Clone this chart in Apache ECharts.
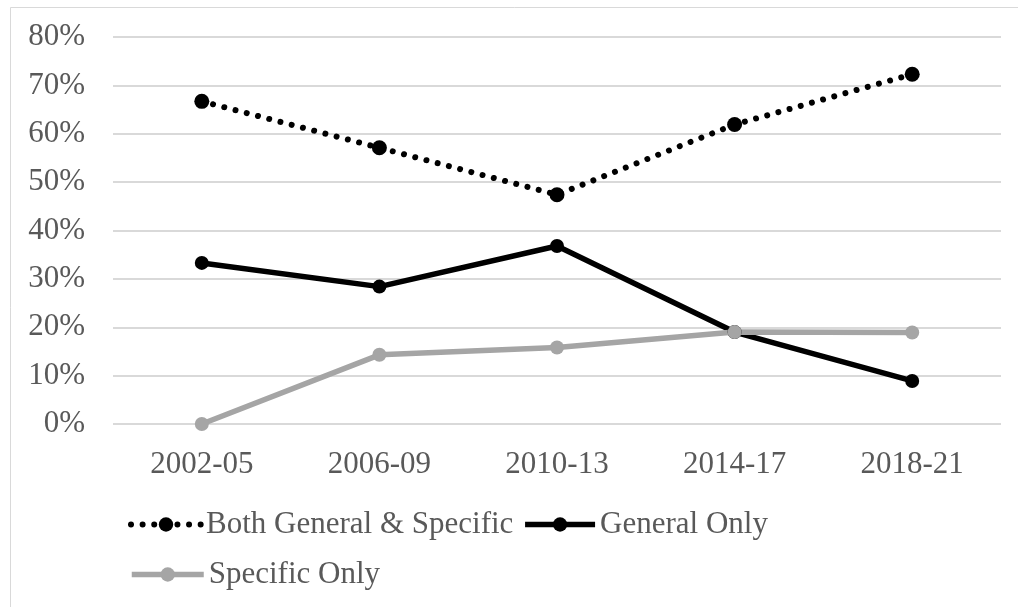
<!DOCTYPE html>
<html>
<head>
<meta charset="utf-8">
<script src="https://cdn.jsdelivr.net/npm/echarts@6/dist/echarts.min.js"></script>
<style>html,body{margin:0;padding:0;background:#fff;}#c{width:1018px;height:607px;}</style>
</head>
<body>
<div id="c"></div>
<script>
const categories = ['2002-05', '2006-09', '2010-13', '2014-17', '2018-21'];
const bothGeneralSpecific = [66.7, 57.1, 47.4, 61.9, 72.3];
const generalOnly = [33.3, 28.4, 36.8, 19.0, 8.9];
const specificOnly = [0, 14.3, 15.8, 19.0, 18.9];
const yTicks = [0, 10, 20, 30, 40, 50, 60, 70, 80];

const FONT = '"Liberation Serif", "Times New Roman", serif';
const TXT = '#595959';
const FS = 31;
const chart = echarts.init(document.getElementById('c'), null, {renderer: 'canvas'});
chart.setOption({
  animation: false,
  backgroundColor: '#fff',
  graphic: [{
    type: 'rect', shape: {x: 10.5, y: 7.5, width: 1200, height: 800},
    style: {fill: 'none', stroke: '#d9d9d9', lineWidth: 1}, silent: true, z: -1
  }],
  grid: {left: 113, right: 17, top: 37, bottom: 183, containLabel: false},
  xAxis: {
    type: 'category', data: categories, boundaryGap: true,
    axisLine: {show: false}, axisTick: {show: false},
    axisLabel: {color: TXT, fontFamily: FONT, fontSize: FS, margin: 25}
  },
  yAxis: {
    type: 'value', min: yTicks[0], max: yTicks[yTicks.length - 1], interval: 10,
    axisLine: {show: false}, axisTick: {show: false},
    splitLine: {lineStyle: {color: '#d9d9d9', width: 2}},
    axisLabel: {color: TXT, fontFamily: FONT, fontSize: FS, margin: 28, formatter: v => v + '%'}
  },
  legend: [{
    data: ['Both General & Specific', 'General Only'],
    left: 123, top: 504, itemWidth: 70, itemHeight: 18, itemGap: 9,
    lineStyle: {width: 'inherit'},
    textStyle: {color: TXT, fontFamily: FONT, fontSize: FS, padding: [0, 0, 0, 0]}
  }, {
    data: ['Specific Only'],
    left: 124, top: 554, itemWidth: 72, itemHeight: 18, itemGap: 9,
    lineStyle: {width: 'inherit'},
    textStyle: {color: TXT, fontFamily: FONT, fontSize: FS, padding: [0, 0, 0, 0]}
  }],
  series: [{
    name: 'Both General & Specific', type: 'line', data: bothGeneralSpecific,
    symbol: 'circle', symbolSize: 15, color: '#000',
    itemStyle: {color: '#000'},
    lineStyle: {color: '#000', width: 6, type: [0.01, 11.6], cap: 'round'},
    z: 3
  }, {
    name: 'General Only', type: 'line', data: generalOnly,
    symbol: 'circle', symbolSize: 14, color: '#000',
    itemStyle: {color: '#000'},
    lineStyle: {color: '#000', width: 5.5},
    z: 2
  }, {
    name: 'Specific Only', type: 'line', data: specificOnly,
    symbol: 'circle', symbolSize: 14, color: '#a5a5a5',
    itemStyle: {color: '#a5a5a5'},
    lineStyle: {color: '#a5a5a5', width: 5.5},
    z: 2
  }]
});
</script>
</body>
</html>
